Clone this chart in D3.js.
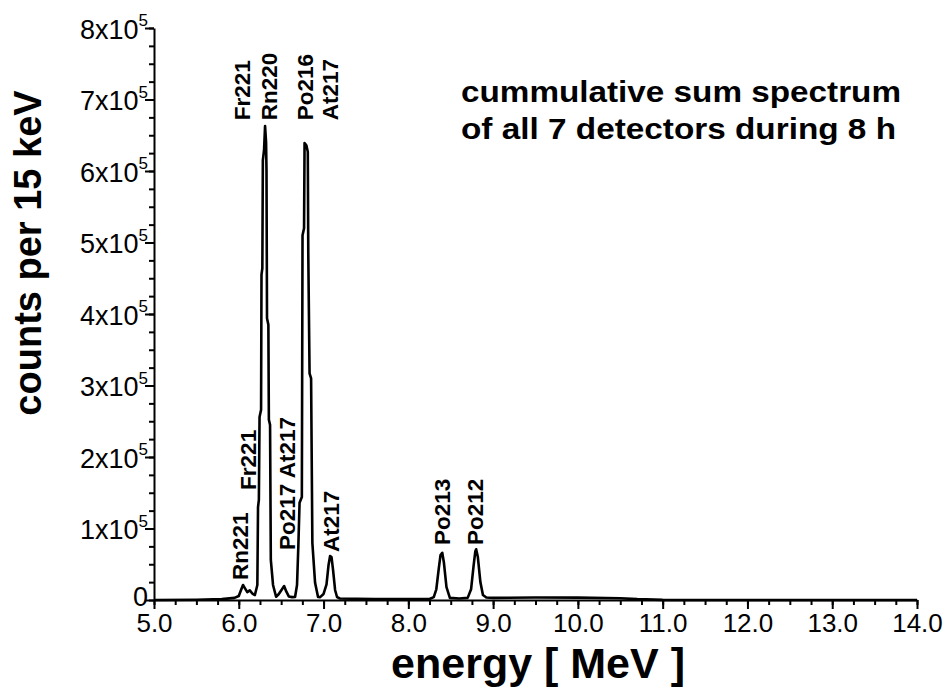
<!DOCTYPE html>
<html>
<head>
<meta charset="utf-8">
<script src="https://cdn.jsdelivr.net/npm/d3@7"></script>
<style>
  html, body { margin: 0; padding: 0; background: #fff; }
  svg { display: block; }
  text { font-family: "Liberation Sans", Arial, sans-serif; fill: #000; }
</style>
</head>
<body>
<svg id="chart" width="949" height="695"></svg>
<script>
// ---- data ----
const energy = [5.0, 5.5, 5.8, 5.95, 6.0, 6.03, 6.05, 6.07, 6.10, 6.13, 6.16, 6.19,
  6.219, 6.227, 6.237, 6.245, 6.263, 6.268, 6.278, 6.284, 6.298, 6.310, 6.322, 6.327, 6.333, 6.349, 6.355, 6.369, 6.378, 6.404,
  6.44, 6.47, 6.49, 6.51, 6.535, 6.56, 6.59, 6.63,
  6.664, 6.687, 6.703, 6.717, 6.744, 6.752, 6.770, 6.776, 6.797, 6.814, 6.820, 6.835, 6.853, 6.868, 6.900, 6.935,
  6.96, 7.00, 7.035, 7.059, 7.077, 7.094, 7.112, 7.136, 7.159, 7.195,
  7.6, 8.0, 8.25, 8.30, 8.33, 8.36, 8.38, 8.40, 8.42, 8.45, 8.49, 8.60,
  8.70, 8.74, 8.77, 8.79, 8.80, 8.82, 8.85, 8.88, 8.92,
  9.0, 9.5, 10.0, 10.5, 10.7, 11.0, 12.0, 14.0];
const counts = [0, 300, 1200, 3000, 5500, 15000, 21000, 17000, 11000, 13500, 9000, 7000,
  21000, 130000, 140000, 256000, 266000, 455000, 464000, 615000, 629000, 663000, 640000, 600000, 394000, 385000, 252000, 245000, 56000, 21000,
  4500, 8000, 11500, 15000, 19500, 12000, 5000, 4000,
  4200, 21000, 77000, 136000, 144000, 510000, 520000, 639000, 636000, 627000, 483000, 317000, 310000, 80000, 24000, 4200,
  4000, 8400, 22000, 49000, 61500, 60000, 42000, 14000, 4200, 2000,
  1200, 1200, 1500, 4000, 15000, 45000, 63000, 66000, 52000, 18000, 3000, 2000,
  3000, 15000, 48000, 68000, 71000, 60000, 25000, 7000, 3500,
  3000, 3500, 3300, 2500, 1200, 200, 0, 0];

const xTickValues = [5, 6, 7, 8, 9, 10, 11, 12, 13, 14];
const xTickLabels = ["5.0", "6.0", "7.0", "8.0", "9.0", "10.0", "11.0", "12.0", "13.0", "14.0"];
const yTickValues = [0, 100000, 200000, 300000, 400000, 500000, 600000, 700000, 800000];
const yTickMantissa = ["0", "1", "2", "3", "4", "5", "6", "7", "8"];

const peakNames  = ["Fr221", "Rn220", "Po216", "At217", "Rn221", "Fr221", "Po217 At217", "At217", "Po213", "Po212"];
const peakEnergy = [6.133, 6.445, 6.876, 7.171, 6.109, 6.204, 6.664, 7.180, 8.493, 8.882];
const peakCount  = [671000, 671000, 671000, 671000, 28000, 154000, 70000, 67000, 77000, 77000];

const titleLines = ["cummulative sum spectrum", "of all 7 detectors during 8 h"];

// ---- drawing ----
const svg = d3.select("#chart");
const x = d3.scaleLinear().domain([5, 14]).range([154, 917]);
const y = d3.scaleLinear().domain([0, 800000]).range([600, 28]);
const FONT = "Liberation Sans, Arial, sans-serif";

// spectrum
const pts = energy.map((e, i) => [e, counts[i]]);
svg.append("path")
  .datum(pts)
  .attr("fill", "none")
  .attr("stroke", "#000")
  .attr("stroke-width", 2.6)
  .attr("stroke-linejoin", "round")
  .attr("d", d3.line().x(d => x(d[0])).y(d => y(d[1])));

// x axis: minor ticks
svg.append("g")
  .attr("transform", `translate(0,${y(0)})`)
  .call(d3.axisBottom(x).tickValues(d3.range(5, 14.001, 0.25)).tickSize(5).tickSizeOuter(0).tickFormat(""))
  .call(g => g.selectAll("line,path").attr("stroke", "#000").attr("stroke-width", 2));
// x axis: major ticks with labels
svg.append("g")
  .attr("transform", `translate(0,${y(0)})`)
  .call(d3.axisBottom(x).tickValues(xTickValues).tickSize(9).tickSizeOuter(0)
    .tickFormat((d, i) => xTickLabels[i]).tickPadding(5))
  .call(g => g.select(".domain").remove())
  .call(g => g.selectAll("line").attr("stroke", "#000").attr("stroke-width", 2))
  .call(g => g.selectAll("text").attr("font-size", 26).attr("font-family", FONT).attr("fill", "#000"));

// y axis: minor ticks
svg.append("g")
  .attr("transform", `translate(${x(5)},0)`)
  .call(d3.axisLeft(y).tickValues(d3.range(0, 800001, 25000)).tickSize(5).tickSizeOuter(0).tickFormat(""))
  .call(g => g.selectAll("line,path").attr("stroke", "#000").attr("stroke-width", 2));
// y axis: major ticks with labels
const yAxisG = svg.append("g")
  .attr("transform", `translate(${x(5)},0)`)
  .call(d3.axisLeft(y).tickValues(yTickValues).tickSize(9).tickSizeOuter(0).tickFormat("").tickPadding(-3))
  .call(g => g.select(".domain").remove())
  .call(g => g.selectAll("line").attr("stroke", "#000").attr("stroke-width", 2));
yAxisG.selectAll(".tick text").each(function(d, i) {
  const t = d3.select(this)
    .attr("font-size", 27)
    .attr("font-family", FONT)
    .attr("fill", "#000")
    .attr("text-anchor", "end")
    .attr("dy", i === 0 ? "0.2em" : "0.38em")
    .text(null);
  if (i === 0) {
    t.append("tspan").text(yTickMantissa[i]);
  } else {
    t.append("tspan").text(yTickMantissa[i] + "x10");
    t.append("tspan").attr("font-size", 17).attr("dy", "-0.75em").text("5");
  }
});

// axis titles
svg.append("text")
  .attr("x", 538).attr("y", 678)
  .attr("text-anchor", "middle")
  .attr("font-size", 43).attr("font-weight", "bold")
  .text("energy [ MeV ]");
svg.append("text")
  .attr("transform", "translate(41,253) rotate(-90)")
  .attr("text-anchor", "middle")
  .attr("font-size", 38).attr("font-weight", "bold")
  .text("counts per 15 keV");

// peak labels
svg.append("g").selectAll("text")
  .data(peakNames)
  .join("text")
  .attr("transform", (d, i) => `translate(${x(peakEnergy[i])},${y(peakCount[i])}) rotate(-90)`)
  .attr("text-anchor", "start")
  .attr("font-size", 22.5).attr("font-weight", "bold")
  .text(d => d);

// title (reference text is horizontally stretched)
const titleWidths = [440, 435];
svg.append("g").selectAll("text")
  .data(titleLines)
  .join("text")
  .attr("x", 461)
  .attr("y", (d, i) => 102 + i * 37)
  .attr("font-size", 29).attr("font-weight", "bold")
  .attr("textLength", (d, i) => titleWidths[i])
  .attr("lengthAdjust", "spacingAndGlyphs")
  .text(d => d);
</script>
</body>
</html>
